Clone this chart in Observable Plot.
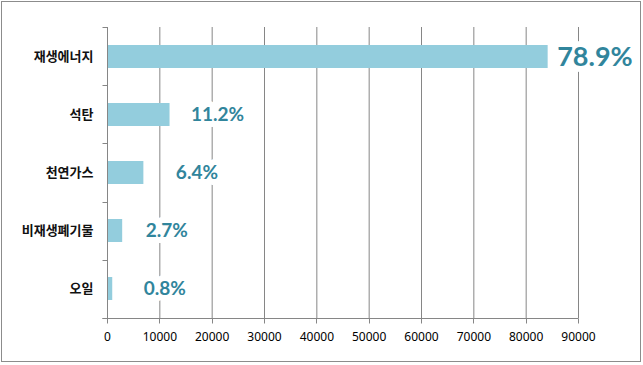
<!DOCTYPE html>
<html>
<head>
<meta charset="utf-8">
<script src="https://cdn.jsdelivr.net/npm/d3@7"></script>
<script src="https://cdn.jsdelivr.net/npm/@observablehq/plot@0.6"></script>
<style>
  body { margin: 0; background: #fff; }
  #chart svg { display: block; }
</style>
</head>
<body>
<div id="chart"></div>
<script>
// ---- data ----
const categories = ["재생에너지", "석탄", "천연가스", "비재생폐기물", "오일"];
const values = [84200, 11950, 6950, 2900, 1000];
const shares = ["78.9%", "11.2%", "6.4%", "2.7%", "0.8%"];
const xTicks = [0, 10000, 20000, 30000, 40000, 50000, 60000, 70000, 80000, 90000];

const data = categories.map((c, i) => ({category: c, value: values[i], share: shares[i], i}));

// ---- style ----
const teal = "#31859C";
const barColor = "#93CDDD";
const gridColor = "#868686";
const labelDx = [9, 21, 32, 23, 31];
const labelSize = [27, 19, 19, 19, 19];

// axis lines, tick marks and outer border
const axesMark = (index, scales, vals, dims) => {
  const {width, height, marginTop, marginRight, marginBottom, marginLeft} = dims;
  const g = d3.create("svg:g").attr("stroke", gridColor).attr("fill", "none");
  const x0 = marginLeft + 0.5, x1 = width - marginRight + 0.5;
  const y0 = marginTop, yb = height - marginBottom + 0.5;
  g.append("line").attr("x1", x0).attr("x2", x0).attr("y1", y0).attr("y2", yb);
  g.append("line").attr("x1", x0 - 5).attr("x2", x1).attr("y1", yb).attr("y2", yb);
  const n = categories.length;
  const step = (height - marginTop - marginBottom) / n;
  for (let k = 0; k <= n; k++) {
    const yy = Math.round(marginTop + k * step) + 0.5;
    g.append("line").attr("x1", x0 - 5).attr("x2", x0).attr("y1", yy).attr("y2", yy);
  }
  for (const t of xTicks) {
    const xx = Math.round(scales.x(t)) + 0.5;
    g.append("line").attr("x1", xx).attr("x2", xx).attr("y1", yb).attr("y2", yb + 5);
  }
  g.append("rect").attr("x", 1.5).attr("y", 1.5).attr("width", width - 4).attr("height", height - 5)
    .attr("stroke", "#8c8c8c");
  return g.node();
};

const marks = [
  Plot.ruleX(xTicks.slice(1), {x: d => d, stroke: gridColor, strokeWidth: 1}),
  Plot.barX(data, {x: "value", y: "category", fill: barColor}),
  Plot.text(xTicks, {x: d => d, frameAnchor: "bottom", dy: 22, text: d => String(d),
    fill: "#000", fontSize: 12, fontFamily: "Noto Sans"}),
  Plot.text(data, {y: "category", frameAnchor: "left", dx: -14, text: "category",
    textAnchor: "end", fill: "#111", fontSize: 13, fontFamily: "Noto Sans CJK KR", fontWeight: "bold"}),
  axesMark
];

data.forEach((d, i) => {
  const opts = {x: "value", y: "category", text: "share", textAnchor: "start", dx: labelDx[i],
    fontSize: labelSize[i], fontFamily: "Lato", fontWeight: "bold"};
  marks.push(Plot.text([d], {...opts, fill: "white", stroke: "white", strokeWidth: 12, strokeLinejoin: "round"}));
  marks.push(Plot.text([d], {...opts, fill: teal}));
});

const chart = Plot.plot({
  width: 643,
  height: 365,
  marginLeft: 107,
  marginRight: 65,
  marginTop: 27,
  marginBottom: 47,
  style: {background: "#fff", fontFamily: "Noto Sans", overflow: "visible"},
  x: {domain: [0, 90000], axis: null},
  y: {domain: categories, axis: null, paddingInner: 0.6, paddingOuter: 0.3},
  marks
});
document.getElementById("chart").appendChild(chart);
</script>
</body>
</html>
